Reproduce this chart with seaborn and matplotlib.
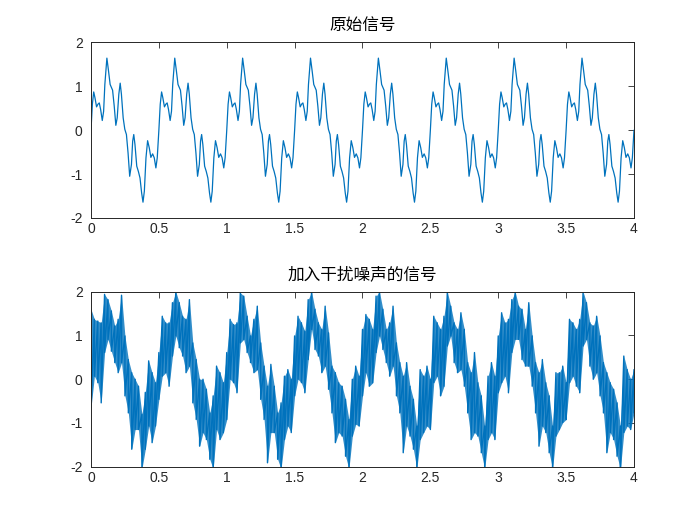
import numpy as np
import pandas as pd
import matplotlib
matplotlib.use("Agg")
import matplotlib.pyplot as plt
import seaborn as sns

# %% data

# one period (0.5 s) of the clean signal, repeats 8 times over 0..4 s
t_period = [0.000, 0.010, 0.020, 0.029, 0.041, 0.051, 0.061, 0.071, 0.083, 0.093,
            0.102, 0.117, 0.129, 0.141, 0.159, 0.171, 0.183, 0.193, 0.205, 0.215,
            0.224, 0.237, 0.249, 0.261, 0.273, 0.285, 0.298, 0.307, 0.315, 0.324,
            0.337, 0.349, 0.361, 0.373, 0.383, 0.393, 0.405, 0.417, 0.429, 0.441,
            0.454, 0.466, 0.478, 0.488]
s_period = [0.00, 0.59, 0.87, 0.74, 0.53, 0.59, 0.62, 0.47, 0.22, 0.43,
            1.04, 1.64, 1.35, 1.04, 0.91, 0.55, 0.11, 0.28, 0.82, 1.07,
            0.82, 0.28, 0.02, -0.10, -0.52, -1.05, -0.78, -0.25, -0.10, -0.33,
            -0.82, -0.94, -1.09, -1.43, -1.64, -1.39, -0.63, -0.24, -0.40, -0.62,
            -0.54, -0.63, -0.86, -0.63]
n_periods = 8
period = 0.5

# noisy signal: upper / lower edge of the band, sampled every 0.025 s from 0 to 4 s
noisy_hi = [1.60, 1.37, 1.33, 1.29, 1.94, 1.82, 1.56, 1.22, 1.37, 1.92,
            0.99, 0.45, 0.15, 0.00, -0.16, -0.80, -0.30, 0.42, 0.15, -0.08,
            0.61, 1.44, 1.29, 1.29, 1.75, 2.00, 1.75, 1.44, 1.37, 1.82,
            0.83, 0.45, 0.00, 0.00, -0.23, -0.77, -0.38, 0.30, 0.15, -0.08,
            0.61, 1.37, 1.25, 1.29, 1.98, 1.90, 1.44, 0.99, 1.37, 1.67,
            0.83, 0.30, -0.16, 0.34, -0.16, -0.77, -0.54, 0.07, 0.22, 0.00,
            0.99, 1.44, 1.29, 1.10, 1.82, 2.00, 1.60, 1.29, 1.14, 1.67,
            1.06, 0.30, 0.15, -0.08, -0.16, -0.46, -0.92, 0.00, 0.30, 0.07,
            1.14, 1.48, 1.37, 1.14, 1.90, 2.00, 1.60, 1.14, 1.29, 1.67,
            0.83, 0.38, 0.07, 0.38, -0.16, -0.46, -1.07, 0.22, 0.07, 0.30,
            0.00, 1.44, 1.29, 1.14, 1.44, 2.00, 1.67, 1.29, 1.14, 1.52,
            1.14, 0.38, 0.15, 0.61, -0.08, -0.38, -1.07, 0.07, 0.38, 0.07,
            0.99, 1.52, 1.29, 1.37, 1.82, 2.00, 1.67, 1.60, 1.14, 1.75,
            0.99, 0.38, 0.15, 0.45, -0.08, -0.38, -1.07, 0.15, 0.15, 0.30,
            -0.08, 1.37, 1.29, 1.14, 1.37, 2.00, 1.75, 1.29, 1.22, 1.44,
            0.99, 0.38, 0.15, -0.08, -0.23, -0.54, -1.07, 0.53, 0.22, 0.00,
            0.22]
noisy_lo = [-0.65, 0.07, -0.08, -0.54, 0.61, 0.91, 0.64, 0.38, 0.15, 0.38,
            -0.38, -0.77, -1.60, -1.15, -1.15, -2.05, -1.60, -1.07, -1.45, -1.07,
            -0.46, 0.07, 0.15, -0.16, 0.53, 0.99, 0.72, 0.53, 0.15, 0.30,
            -0.54, -0.92, -1.53, -1.22, -1.38, -1.83, -2.05, -1.15, -1.38, -1.22,
            -0.92, 0.00, -0.08, -0.31, 0.83, 0.91, 0.61, 0.38, 0.15, 0.22,
            -0.46, -0.92, -1.91, -1.22, -1.22, -1.83, -2.05, -1.38, -1.07, -1.22,
            -0.38, 0.00, -0.08, -0.31, 0.45, 1.14, 0.68, 0.53, 0.15, 0.30,
            -0.23, -0.77, -1.45, -1.22, -1.30, -1.76, -2.05, -1.30, -1.03, -1.07,
            -0.38, 0.15, -0.16, -0.08, 0.61, 0.99, 0.68, 0.38, 0.07, 0.30,
            -0.38, -0.77, -1.68, -1.07, -1.30, -1.60, -2.05, -1.38, -1.22, -1.07,
            -1.15, -0.08, 0.07, -0.38, -0.16, 0.76, 0.99, 0.38, 0.15, 0.22,
            -0.16, -0.77, -1.38, -1.22, -1.30, -1.68, -2.05, -1.38, -1.22, -1.38,
            -0.31, -0.08, 0.07, -0.31, 0.61, 0.91, 0.91, 0.45, 0.30, 0.30,
            -0.16, -0.77, -1.53, -1.07, -1.22, -1.68, -2.05, -1.30, -1.15, -0.99,
            -0.92, -0.08, 0.07, -0.16, -0.31, 0.76, 0.91, 0.30, 0.00, 0.15,
            -0.38, -0.77, -1.68, -1.22, -1.38, -1.76, -2.05, -1.22, -1.07, -1.15,
            -0.77]
noisy_step = 0.025

xtick_vals = [0, 0.5, 1, 1.5, 2, 2.5, 3, 3.5, 4]
xtick_labels = ["0", "0.5", "1", "1.5", "2", "2.5", "3", "3.5", "4"]
ytick_vals = [-2, -1, 0, 1, 2]
ytick_labels = ["-2", "-1", "0", "1", "2"]
titles = ["原始信号", "加入干扰噪声的信号"]

# %% build frames

t_clean = np.concatenate([np.array(t_period) + k * period for k in range(n_periods)] + [[4.0]])
s_clean = np.concatenate([s_period] * n_periods + [[0.0]])
clean = pd.DataFrame({"t": t_clean, "s": s_clean})

t_n = np.arange(len(noisy_hi)) * noisy_step
band = pd.DataFrame({"t": t_n, "hi": noisy_hi, "lo": noisy_lo})
# the line goes top -> bottom -> next top ... to draw the dense band
noisy = pd.DataFrame({"t": np.repeat(t_n, 2),
                      "s": np.column_stack([noisy_hi, noisy_lo]).ravel()})

# %% plot

sns.set_style("white")
plt.rcParams["font.family"] = ["Liberation Sans", "DejaVu Sans"]
plt.rcParams["axes.unicode_minus"] = False

line_c = "#0072BD"
axc = "#262626"

fig = plt.figure(figsize=(7, 5.25), dpi=100)
ax1 = fig.add_axes([0.13, 0.5848, 0.7757, 0.3346])
ax2 = fig.add_axes([0.13, 0.111, 0.7757, 0.3333])

sns.lineplot(data=clean, x="t", y="s", ax=ax1, color=line_c, lw=0.9,
             estimator=None, sort=False)

# solid core of the noisy band, then the jagged strokes on top
ax2.fill_between(band["t"], band["lo"], band["hi"], color=line_c, alpha=0.8, lw=0)
sns.lineplot(data=noisy, x="t", y="s", ax=ax2, color=line_c, lw=1.0,
             estimator=None, sort=False)

for ax, ttl in zip([ax1, ax2], titles):
    ax.set_xlim(0, 4)
    ax.set_ylim(-2, 2)
    ax.set_xticks(xtick_vals, xtick_labels)
    ax.set_yticks(ytick_vals, ytick_labels)
    ax.set_xlabel("")
    ax.set_ylabel("")
    ax.tick_params(direction="in", top=True, right=True, length=4, width=0.6,
                   color=axc, labelcolor=axc, labelsize=10)
    ax.tick_params(axis="x", pad=3)
    ax.tick_params(axis="y", pad=6)
    for sp in ax.spines.values():
        sp.set_visible(True)
        sp.set_color(axc)
        sp.set_linewidth(0.7)
        sp.set_zorder(5)
    ax.set_title(ttl, family=["Noto Sans CJK SC", "DejaVu Sans"], fontsize=12,
                 color="black", pad=9)

fig.savefig("out.png", dpi=100)
